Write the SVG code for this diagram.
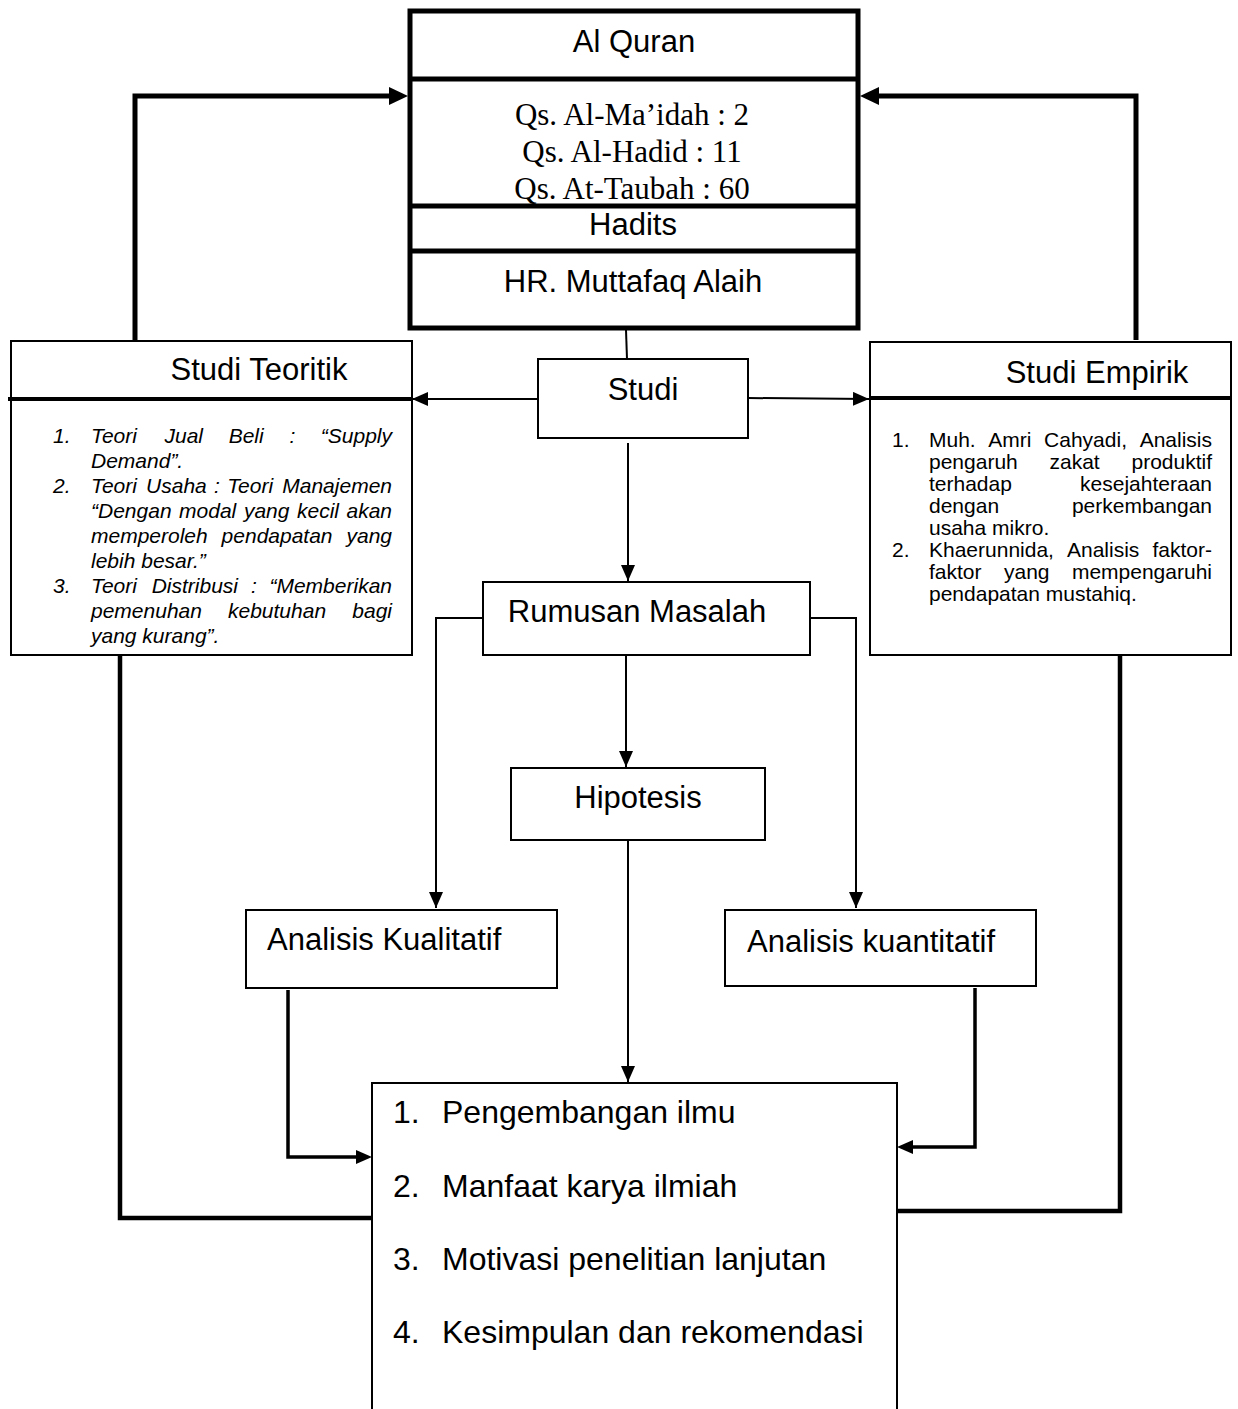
<svg xmlns="http://www.w3.org/2000/svg" width="1238" height="1409" viewBox="0 0 1238 1409">
<style>
  .bx{fill:#fff;stroke:#000;stroke-width:2}
  .thick{fill:none;stroke:#000;stroke-width:5}
  .lbl{font-family:"Liberation Sans",Arial,sans-serif;font-size:31px;fill:#000}
  .tms{font-family:"Liberation Serif","Times New Roman",serif;font-size:31px;fill:#000}
  .li{font-family:"Liberation Sans",Arial,sans-serif;font-size:21px;font-style:italic;fill:#000}
  .lr{font-family:"Liberation Sans",Arial,sans-serif;font-size:21px;fill:#000}
  .big{font-family:"Liberation Sans",Arial,sans-serif;font-size:32px;fill:#000}
  .c{text-anchor:middle}
  .e{text-anchor:end}
  .cn{fill:none;stroke:#000;stroke-width:2}
  .cn3{fill:none;stroke:#000;stroke-width:3.5}
  .cn4{fill:none;stroke:#000;stroke-width:4.5}
  .cn5{fill:none;stroke:#000;stroke-width:5}
</style>
<defs>
  <marker id="arr" markerUnits="userSpaceOnUse" markerWidth="16" markerHeight="14" refX="16" refY="7" orient="auto">
    <path d="M0,0 L16,7 L0,14 Z" fill="#000"/>
  </marker>
</defs>

<g id="connectors">
  <path class="cn5" d="M135,340 V96 H392"/>
  <path d="M389,87 L408,96 L389,105 Z" fill="#000"/>
  <path class="cn5" d="M1136,340 V96 H876"/>
  <path d="M879,87 L860,96 L879,105 Z" fill="#000"/>
  <path class="cn" d="M626,330 L627,359"/>
  <path class="cn" d="M538,399 H412" marker-end="url(#arr)"/>
  <path class="cn" d="M748,398 L869,399" marker-end="url(#arr)"/>
  <path class="cn" d="M628,443 V581" marker-end="url(#arr)"/>
  <path class="cn" d="M483,618 H436 V908" marker-end="url(#arr)"/>
  <path class="cn" d="M810,618 H856 V908" marker-end="url(#arr)"/>
  <path class="cn" d="M626,655 V767" marker-end="url(#arr)"/>
  <path class="cn" d="M628,840 V1082" marker-end="url(#arr)"/>
  <path class="cn3" d="M288,990 V1157 H356"/>
  <path d="M356,1150 L372,1157 L356,1164 Z" fill="#000"/>
  <path class="cn3" d="M975,988 V1147 H913"/>
  <path d="M913,1140 L897,1147 L913,1154 Z" fill="#000"/>
  <path class="cn4" d="M120,655 V1218 H372"/>
  <path class="cn4" d="M1120,655 V1211 H897"/>
</g>

<g id="sumber">
  <rect x="410" y="11" width="448" height="317" fill="#fff" stroke="#000" stroke-width="5"/>
  <text class="lbl c" x="634" y="52">Al Quran</text>
  <text class="tms c" x="632" y="125">Qs. Al-Ma’idah : 2</text>
  <text class="tms c" x="632" y="162">Qs. Al-Hadid : 11</text>
  <text class="tms c" x="632" y="199">Qs. At-Taubah : 60</text>
  <text class="lbl c" x="633" y="235">Hadits</text>
  <text class="lbl c" x="633" y="292">HR. Muttafaq Alaih</text>
  <line class="thick" x1="410" y1="79" x2="858" y2="79"/>
  <line class="thick" x1="410" y1="206" x2="858" y2="206"/>
  <line class="thick" x1="410" y1="251" x2="858" y2="251"/>
</g>

<g id="studi">
  <rect class="bx" x="538" y="359" width="210" height="79"/>
  <text class="lbl c" x="643" y="400">Studi</text>
</g>

<g id="studi-teoritik">
  <rect class="bx" x="11" y="341" width="401" height="314"/>
  <line x1="8" y1="399" x2="412" y2="399" stroke="#000" stroke-width="4"/>
  <text class="lbl c" x="259" y="380">Studi Teoritik</text>
  <text class="li" x="53" y="443">1.</text>
  <text class="li" y="443"><tspan x="91">Teori</tspan><tspan x="164.5">Jual</tspan><tspan x="228.7">Beli</tspan><tspan x="289.4">:</tspan><tspan x="392" text-anchor="end">“Supply</tspan></text>
  <text class="li" x="91" y="468">Demand”.</text>
  <text class="li" x="53" y="493">2.</text>
  <text class="li" y="493"><tspan x="91">Teori</tspan><tspan x="146.1">Usaha</tspan><tspan x="214.1">:</tspan><tspan x="227.2">Teori</tspan><tspan x="392" text-anchor="end">Manajemen</tspan></text>
  <text class="li" y="518"><tspan x="91">“Dengan</tspan><tspan x="179.1">modal</tspan><tspan x="243.9">yang</tspan><tspan x="297">kecil</tspan><tspan x="392" text-anchor="end">akan</tspan></text>
  <text class="li" y="543"><tspan x="91">memperoleh</tspan><tspan x="221.6">pendapatan</tspan><tspan x="392" text-anchor="end">yang</tspan></text>
  <text class="li" x="91" y="568">lebih besar.”</text>
  <text class="li" x="53" y="593">3.</text>
  <text class="li" y="593"><tspan x="91">Teori</tspan><tspan x="151.7">Distribusi</tspan><tspan x="250.9">:</tspan><tspan x="392" text-anchor="end">“Memberikan</tspan></text>
  <text class="li" y="618"><tspan x="91">pemenuhan</tspan><tspan x="228">kebutuhan</tspan><tspan x="392" text-anchor="end">bagi</tspan></text>
  <text class="li" x="91" y="643">yang kurang”.</text>
</g>

<g id="studi-empirik">
  <rect class="bx" x="870" y="342" width="361" height="313"/>
  <line x1="870" y1="398" x2="1231" y2="398" stroke="#000" stroke-width="4"/>
  <text class="lbl c" x="1097" y="383">Studi Empirik</text>
  <text class="lr" x="892" y="447">1.</text>
  <text class="lr" y="447"><tspan x="929">Muh.</tspan><tspan x="988.3">Amri</tspan><tspan x="1044.1">Cahyadi,</tspan><tspan x="1212" text-anchor="end">Analisis</tspan></text>
  <text class="lr" y="469"><tspan x="929">pengaruh</tspan><tspan x="1049.5">zakat</tspan><tspan x="1212" text-anchor="end">produktif</tspan></text>
  <text class="lr" y="491"><tspan x="929">terhadap</tspan><tspan x="1212" text-anchor="end">kesejahteraan</tspan></text>
  <text class="lr" y="513"><tspan x="929">dengan</tspan><tspan x="1212" text-anchor="end">perkembangan</tspan></text>
  <text class="lr" x="929" y="535">usaha mikro.</text>
  <text class="lr" x="892" y="557">2.</text>
  <text class="lr" y="557"><tspan x="929">Khaerunnida,</tspan><tspan x="1067">Analisis</tspan><tspan x="1212" text-anchor="end">faktor-</tspan></text>
  <text class="lr" y="579"><tspan x="929">faktor</tspan><tspan x="1004">yang</tspan><tspan x="1212" text-anchor="end">mempengaruhi</tspan></text>
  <text class="lr" x="929" y="601">pendapatan mustahiq.</text>
</g>

<g id="rumusan-masalah">
  <rect class="bx" x="483" y="582" width="327" height="73"/>
  <text class="lbl c" x="637" y="622">Rumusan Masalah</text>
</g>

<g id="hipotesis">
  <rect class="bx" x="511" y="768" width="254" height="72"/>
  <text class="lbl c" x="638" y="808">Hipotesis</text>
</g>

<g id="analisis-kualitatif">
  <rect class="bx" x="246" y="910" width="311" height="78"/>
  <text class="lbl" x="267" y="950">Analisis Kualitatif</text>
</g>

<g id="analisis-kuantitatif">
  <rect class="bx" x="725" y="910" width="311" height="76"/>
  <text class="lbl" x="747" y="952">Analisis kuantitatif</text>
</g>

<g id="hasil">
  <path class="bx" d="M372,1409 V1083 H897 V1409"/>
  <text class="big" x="393" y="1123">1.</text>
  <text class="big" x="442" y="1123">Pengembangan ilmu</text>
  <text class="big" x="393" y="1197">2.</text>
  <text class="big" x="442" y="1197">Manfaat karya ilmiah</text>
  <text class="big" x="393" y="1270">3.</text>
  <text class="big" x="442" y="1270">Motivasi penelitian lanjutan</text>
  <text class="big" x="393" y="1343">4.</text>
  <text class="big" x="442" y="1343">Kesimpulan dan rekomendasi</text>
</g>
</svg>
